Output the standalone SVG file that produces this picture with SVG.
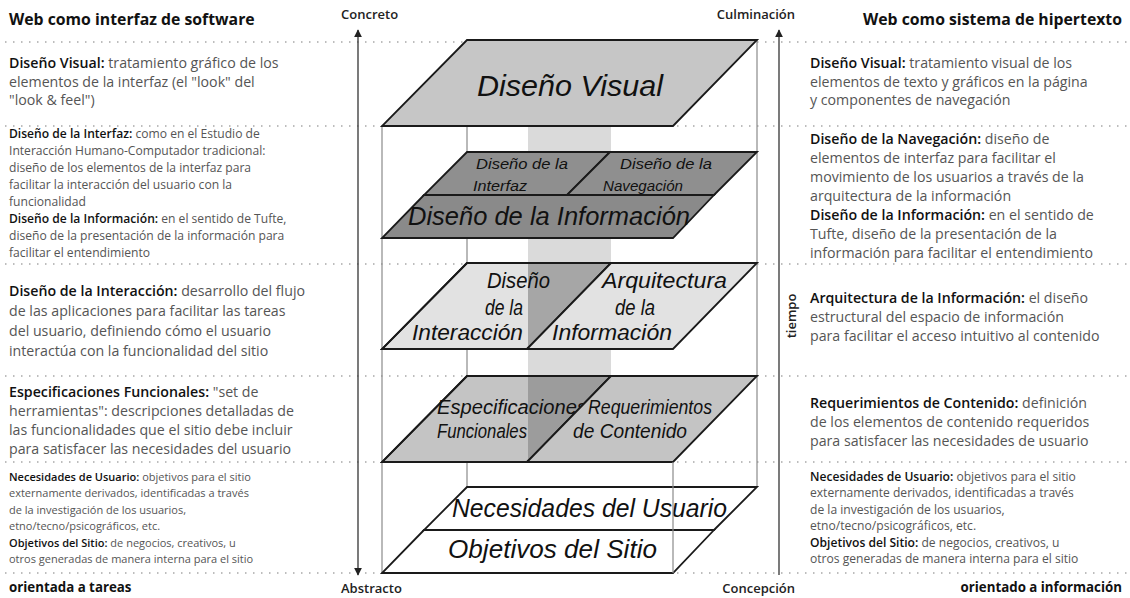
<svg xmlns="http://www.w3.org/2000/svg" width="1130" height="598" viewBox="0 0 1130 598">
<defs>
<style>
.h{font-family:"Open Sans","Liberation Sans",sans-serif;font-weight:bold;font-size:15.8px;fill:#111}
.f{font-family:"Open Sans","Liberation Sans",sans-serif;font-weight:bold;font-size:13.3px;fill:#111}
.t{font-family:"Open Sans","Liberation Sans",sans-serif;font-size:14.2px;fill:#555}
.s{font-family:"Open Sans","Liberation Sans",sans-serif;font-size:12.1px;fill:#555}
.s2{font-family:"Open Sans","Liberation Sans",sans-serif;font-size:11px;fill:#555}
.b{font-weight:600;fill:#111}
.ax{font-family:"Open Sans","Liberation Sans",sans-serif;font-weight:600;font-size:13px;fill:#222}
.p{font-family:"Liberation Sans",sans-serif;font-style:italic;fill:#111}
.dot{stroke:#a8a8a8;stroke-width:1.5;stroke-dasharray:1.5 6.5;fill:none}
.pl{stroke:#1a1a1a;stroke-width:1.8;stroke-linejoin:miter}
.edge{stroke:#8a8a8a;stroke-width:1.2;fill:none}
.arr{stroke:#333;stroke-width:1.3;fill:none}
</style>
<marker id="ah" viewBox="0 0 10 10" refX="9" refY="5" markerWidth="8" markerHeight="8" markerUnits="userSpaceOnUse" orient="auto-start-reverse">
<path d="M0,0 L10,5 L0,10 z" fill="#222"/>
</marker>
</defs>
<rect width="1130" height="598" fill="#fff"/>

<g id="dotted-lines">
<line class="dot" x1="5" y1="42" x2="1128" y2="42"/>
<line class="dot" x1="5" y1="126" x2="1128" y2="126"/>
<line class="dot" x1="5" y1="264" x2="1128" y2="264"/>
<line class="dot" x1="5" y1="376" x2="1128" y2="376"/>
<line class="dot" x1="5" y1="462" x2="1128" y2="462"/>
<line class="dot" x1="5" y1="573" x2="1128" y2="573"/>
</g>

<g id="band">
<rect x="528" y="126" width="83" height="336" fill="#dadada"/>
</g>

<g id="box-edges">
<line class="edge" x1="382" y1="126" x2="382" y2="573"/>
<line class="edge" x1="467" y1="40" x2="467" y2="487"/>
<line class="edge" x1="757" y1="40" x2="757" y2="487"/>
</g>

<g id="axes">
<line class="arr" x1="358" y1="30" x2="358" y2="575" marker-start="url(#ah)" marker-end="url(#ah)"/>
<line class="arr" x1="779" y1="575" x2="779" y2="30" marker-end="url(#ah)"/>
<text class="ax" x="341" y="19">Concreto</text>
<text class="ax" x="795" y="19" text-anchor="end">Culminación</text>
<text class="ax" x="341" y="593">Abstracto</text>
<text class="ax" x="795" y="593" text-anchor="end">Concepción</text>
<text class="ax" transform="translate(796,316) rotate(-90)" text-anchor="middle" font-size="12">tiempo</text>
</g>

<g id="plane-visual">
<polygon class="pl" points="467,40 757,40 673,126 382,126" fill="#c6c6c6"/>
<text class="p" x="477" y="96" font-size="30" textLength="186" lengthAdjust="spacingAndGlyphs">Diseño Visual</text>
</g>

<g id="plane-interfaz">
<polygon class="pl" points="467,152 610,152 567,195 424,195" fill="#8f8f8f"/>
<text class="p" x="476" y="169" font-size="15" textLength="92" lengthAdjust="spacingAndGlyphs">Diseño de la</text>
<text class="p" x="473" y="191" font-size="15" textLength="54" lengthAdjust="spacingAndGlyphs">Interfaz</text>
</g>
<g id="plane-navegacion">
<polygon class="pl" points="610,152 757,152 714,195 567,195" fill="#8f8f8f"/>
<text class="p" x="620" y="169" font-size="15" textLength="92" lengthAdjust="spacingAndGlyphs">Diseño de la</text>
<text class="p" x="603" y="191" font-size="15" textLength="80" lengthAdjust="spacingAndGlyphs">Navegación</text>
</g>
<g id="plane-informacion">
<polygon class="pl" points="424,195 714,195 673,238 382,238" fill="#8a8a8a"/>
<text class="p" x="408" y="225" font-size="25" textLength="282" lengthAdjust="spacingAndGlyphs">Diseño de la Información</text>
</g>

<g id="plane-interaccion">
<polygon class="pl" points="467,263 611,263 527,349 382,349" fill="#e2e2e2"/>
<polygon points="528,264 610,264 528,348" fill="#a6a6a6"/>
<polygon class="pl" points="467,263 611,263 527,349 382,349" fill="none"/>
<text class="p" x="487" y="288" font-size="22" textLength="63" lengthAdjust="spacingAndGlyphs">Diseño</text>
<text class="p" x="485" y="315" font-size="22" textLength="38" lengthAdjust="spacingAndGlyphs">de la</text>
<text class="p" x="412" y="340" font-size="22" textLength="111" lengthAdjust="spacingAndGlyphs">Interacción</text>
</g>
<g id="plane-arquitectura">
<polygon class="pl" points="611,263 757,263 673,349 527,349" fill="#e2e2e2"/>
<text class="p" x="602" y="288" font-size="22" textLength="125" lengthAdjust="spacingAndGlyphs">Arquitectura</text>
<text class="p" x="615" y="315" font-size="22" textLength="40" lengthAdjust="spacingAndGlyphs">de la</text>
<text class="p" x="552" y="340" font-size="22" textLength="120" lengthAdjust="spacingAndGlyphs">Información</text>
</g>

<g id="plane-especificaciones">
<polygon class="pl" points="467,376 611,376 527,462 382,462" fill="#c4c4c4"/>
<polygon points="528,377 610,377 528,461" fill="#9c9c9c"/>
<polygon class="pl" points="467,376 611,376 527,462 382,462" fill="none"/>
<text class="p" x="437" y="414" font-size="20" textLength="150" lengthAdjust="spacingAndGlyphs">Especificaciones</text>
<text class="p" x="437" y="438" font-size="20" textLength="90" lengthAdjust="spacingAndGlyphs">Funcionales</text>
</g>
<g id="plane-requerimientos">
<polygon class="pl" points="611,376 757,376 673,462 527,462" fill="#c4c4c4"/>
<text class="p" x="588" y="414" font-size="20" textLength="124" lengthAdjust="spacingAndGlyphs">Requerimientos</text>
<text class="p" x="573" y="438" font-size="20" textLength="114" lengthAdjust="spacingAndGlyphs">de Contenido</text>
</g>

<g id="plane-necesidades">
<polygon class="pl" points="467,487 757,487 714,530 424,530" fill="#fff"/>
<text class="p" x="452" y="517" font-size="26" textLength="275" lengthAdjust="spacingAndGlyphs">Necesidades del Usuario</text>
</g>
<g id="plane-objetivos">
<polygon class="pl" points="424,530 714,530 673,573 382,573" fill="#fff"/>
<text class="p" x="448" y="558" font-size="26" textLength="209" lengthAdjust="spacingAndGlyphs">Objetivos del Sitio</text>
</g>
<g id="front-edge">
<line class="edge" x1="673" y1="462" x2="673" y2="573"/>
</g>

<g id="left-column">
<text class="h" x="9" y="25">Web como interfaz de software</text>
<text class="t" x="9" y="68"><tspan class="b">Diseño Visual:</tspan> tratamiento gráfico de los</text>
<text class="t" x="9" y="87">elementos de la interfaz (el "look" del</text>
<text class="t" x="9" y="105">"look &amp; feel")</text>
<text class="s" x="9" y="138"><tspan class="b">Diseño de la Interfaz:</tspan> como en el Estudio de</text>
<text class="s" x="9" y="155">Interacción Humano-Computador tradicional:</text>
<text class="s" x="9" y="172">diseño de los elementos de la interfaz para</text>
<text class="s" x="9" y="189">facilitar la interacción del usuario con la</text>
<text class="s" x="9" y="206">funcionalidad</text>
<text class="s" x="9" y="223"><tspan class="b">Diseño de la Información:</tspan> en el sentido de Tufte,</text>
<text class="s" x="9" y="240">diseño de la presentación de la información para</text>
<text class="s" x="9" y="257">facilitar el entendimiento</text>
<text class="t" x="9" y="296"><tspan class="b">Diseño de la Interacción:</tspan> desarrollo del flujo</text>
<text class="t" x="9" y="316">de las aplicaciones para facilitar las tareas</text>
<text class="t" x="9" y="336">del usuario, definiendo cómo el usuario</text>
<text class="t" x="9" y="356">interactúa con la funcionalidad del sitio</text>
<text class="t" x="9" y="397"><tspan class="b">Especificaciones Funcionales:</tspan> "set de</text>
<text class="t" x="9" y="416">herramientas": descripciones detalladas de</text>
<text class="t" x="9" y="435">las funcionalidades que el sitio debe incluir</text>
<text class="t" x="9" y="454">para satisfacer las necesidades del usuario</text>
<text class="s2" x="9" y="481"><tspan class="b">Necesidades de Usuario:</tspan> objetivos para el sitio</text>
<text class="s2" x="9" y="497">externamente derivados, identificadas a través</text>
<text class="s2" x="9" y="514">de la investigación de los usuarios,</text>
<text class="s2" x="9" y="530">etno/tecno/psicográficos, etc.</text>
<text class="s2" x="9" y="547"><tspan class="b">Objetivos del Sitio:</tspan> de negocios, creativos, u</text>
<text class="s2" x="9" y="563">otros generadas de manera interna para el sitio</text>
<text class="f" x="9" y="592">orientada a tareas</text>
</g>

<g id="right-column">
<text class="h" x="1122" y="25" text-anchor="end">Web como sistema de hipertexto</text>
<text class="t" x="810" y="68"><tspan class="b">Diseño Visual:</tspan> tratamiento visual de los</text>
<text class="t" x="810" y="87">elementos de texto y gráficos en la página</text>
<text class="t" x="810" y="105">y componentes de navegación</text>
<text class="t" x="810" y="144"><tspan class="b">Diseño de la Navegación:</tspan> diseño de</text>
<text class="t" x="810" y="163">elementos de interfaz para facilitar el</text>
<text class="t" x="810" y="182">movimiento de los usuarios a través de la</text>
<text class="t" x="810" y="201">arquitectura de la información</text>
<text class="t" x="810" y="220"><tspan class="b">Diseño de la Información:</tspan> en el sentido de</text>
<text class="t" x="810" y="239">Tufte, diseño de la presentación de la</text>
<text class="t" x="810" y="258">información para facilitar el entendimiento</text>
<text class="t" x="810" y="303"><tspan class="b">Arquitectura de la Información:</tspan> el diseño</text>
<text class="t" x="810" y="322">estructural del espacio de información</text>
<text class="t" x="810" y="341">para facilitar el acceso intuitivo al contenido</text>
<text class="t" x="810" y="408"><tspan class="b">Requerimientos de Contenido:</tspan> definición</text>
<text class="t" x="810" y="427">de los elementos de contenido requeridos</text>
<text class="t" x="810" y="446">para satisfacer las necesidades de usuario</text>
<text class="s" x="810" y="481"><tspan class="b">Necesidades de Usuario:</tspan> objetivos para el sitio</text>
<text class="s" x="810" y="497">externamente derivados, identificadas a través</text>
<text class="s" x="810" y="514">de la investigación de los usuarios,</text>
<text class="s" x="810" y="530">etno/tecno/psicográficos, etc.</text>
<text class="s" x="810" y="547"><tspan class="b">Objetivos del Sitio:</tspan> de negocios, creativos, u</text>
<text class="s" x="810" y="563">otros generadas de manera interna para el sitio</text>
<text class="f" x="1122" y="592" text-anchor="end">orientado a información</text>
</g>
</svg>
